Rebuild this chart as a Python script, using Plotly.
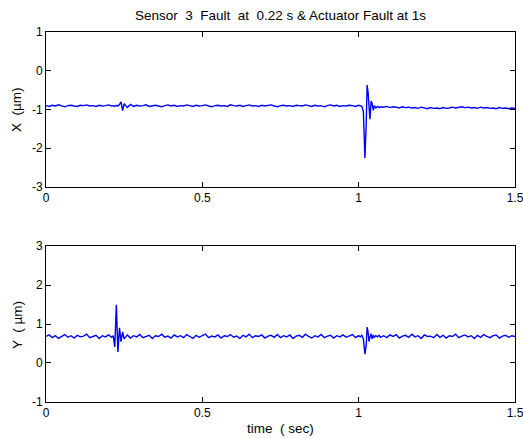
import plotly.graph_objects as go

# ---- data ----
time_s = [
    0.00, 0.01, 0.02, 0.03, 0.04, 0.05, 0.06, 0.07, 0.08, 0.09, 0.10, 0.11, 0.12, 0.13, 0.14, 0.15,
    0.16, 0.17, 0.18, 0.19, 0.20, 0.21,
    0.215, 0.22, 0.225, 0.23, 0.235, 0.24, 0.245, 0.25,
    0.26, 0.27, 0.28, 0.29, 0.30, 0.31, 0.32, 0.33, 0.34, 0.35, 0.36, 0.37, 0.38, 0.39, 0.40,
    0.41, 0.42, 0.43, 0.44, 0.45, 0.46, 0.47, 0.48, 0.49, 0.50, 0.51, 0.52, 0.53, 0.54, 0.55,
    0.56, 0.57, 0.58, 0.59, 0.60, 0.61, 0.62, 0.63, 0.64, 0.65, 0.66, 0.67, 0.68, 0.69, 0.70,
    0.71, 0.72, 0.73, 0.74, 0.75, 0.76, 0.77, 0.78, 0.79, 0.80, 0.81, 0.82, 0.83, 0.84, 0.85,
    0.86, 0.87, 0.88, 0.89, 0.90, 0.91, 0.92, 0.93, 0.94, 0.95, 0.96, 0.97, 0.98, 0.99, 1.00,
    1.005, 1.01, 1.015, 1.02, 1.024, 1.027, 1.03, 1.033, 1.036, 1.04, 1.043, 1.047, 1.05,
    1.055, 1.06, 1.065, 1.07,
    1.08, 1.09, 1.10, 1.11, 1.12, 1.13, 1.14, 1.15, 1.16, 1.17, 1.18, 1.19, 1.20, 1.21, 1.22,
    1.23, 1.24, 1.25, 1.26, 1.27, 1.28, 1.29, 1.30, 1.31, 1.32, 1.33, 1.34, 1.35, 1.36, 1.37,
    1.38, 1.39, 1.40, 1.41, 1.42, 1.43, 1.44, 1.45, 1.46, 1.47, 1.48, 1.49, 1.50,
]

x_um = [
    -0.90, -0.92, -0.89, -0.91, -0.88, -0.90, -0.93, -0.90, -0.89, -0.91, -0.92, -0.89, -0.90, -0.88, -0.91, -0.90,
    -0.92, -0.89, -0.91, -0.90, -0.88, -0.91,
    -0.90, -0.92, -0.89, -0.91, -0.87, -0.80, -1.03, -0.85,
    -0.95, -0.87, -0.92, -0.89, -0.91, -0.90, -0.88, -0.92, -0.90, -0.89, -0.91, -0.93, -0.90, -0.88, -0.91,
    -0.89, -0.92, -0.90, -0.91, -0.88, -0.90, -0.92, -0.89, -0.91, -0.90, -0.88, -0.91, -0.93, -0.90, -0.89,
    -0.91, -0.90, -0.92, -0.88, -0.90, -0.91, -0.89, -0.92, -0.90, -0.88, -0.91, -0.90, -0.92, -0.89, -0.91,
    -0.90, -0.88, -0.91, -0.93, -0.90, -0.89, -0.91, -0.90, -0.92, -0.89, -0.90, -0.91, -0.88, -0.90, -0.92,
    -0.89, -0.91, -0.90, -0.93, -0.90, -0.88, -0.91, -0.89, -0.92, -0.90, -0.91, -0.89, -0.90, -0.92, -0.89,
    -0.90, -0.92, -1.05, -2.25, -1.40, -0.37, -0.55, -1.10, -1.25, -0.78, -0.85, -1.02, -0.90,
    -0.96, -0.92, -0.95, -0.93,
    -0.94, -0.92, -0.95, -0.93, -0.94, -0.96, -0.93, -0.95, -0.94, -0.96, -0.95, -0.97, -0.94, -0.96, -0.98,
    -0.95, -0.97, -0.96, -0.98, -0.95, -0.97, -0.96, -0.94, -0.96, -0.95, -0.93, -0.95, -0.94, -0.96, -0.95,
    -0.97, -0.94, -0.96, -0.95, -0.97, -0.96, -0.98, -0.95, -0.97, -0.96, -0.98, -0.96, -0.97,
]

y_um = [
    0.68, 0.72, 0.65, 0.70, 0.63, 0.69, 0.73, 0.66, 0.70, 0.64, 0.71, 0.67, 0.69, 0.74, 0.65, 0.68,
    0.71, 0.63, 0.70, 0.67, 0.72, 0.66,
    0.70, 0.41, 1.49, 0.28, 0.90, 0.55, 0.80, 0.62,
    0.72, 0.64, 0.70, 0.67, 0.73, 0.65, 0.69, 0.71, 0.63, 0.70, 0.68, 0.74, 0.66, 0.69, 0.64,
    0.72, 0.67, 0.70, 0.65, 0.73, 0.68, 0.63, 0.71, 0.66, 0.70, 0.74, 0.65, 0.69, 0.67, 0.72,
    0.64, 0.70, 0.68, 0.73, 0.66, 0.69, 0.63, 0.71, 0.67, 0.74, 0.65, 0.70, 0.68, 0.72, 0.64,
    0.69, 0.71, 0.66, 0.73, 0.65, 0.70, 0.67, 0.72, 0.63, 0.69, 0.71, 0.66, 0.74, 0.68, 0.64,
    0.70, 0.67, 0.73, 0.65, 0.69, 0.71, 0.64, 0.70, 0.67, 0.72, 0.66, 0.69, 0.73, 0.65, 0.70,
    0.67, 0.71, 0.62, 0.23, 0.45, 0.92, 0.80, 0.55, 0.66, 0.75, 0.62, 0.72, 0.66,
    0.70, 0.67, 0.71, 0.66,
    0.70, 0.65, 0.72, 0.68, 0.73, 0.64, 0.69, 0.71, 0.66, 0.74, 0.67, 0.70, 0.63, 0.72, 0.68,
    0.69, 0.65, 0.73, 0.66, 0.71, 0.64, 0.70, 0.68, 0.74, 0.65, 0.69, 0.72, 0.67, 0.70, 0.63,
    0.71, 0.66, 0.73, 0.68, 0.65, 0.70, 0.72, 0.64, 0.69, 0.71, 0.66, 0.70, 0.68,
]

x_ticks = [0, 0.5, 1, 1.5]
x_tick_labels = ["0", "0.5", "1", "1.5"]
top_yticks = [-3, -2, -1, 0, 1]
top_ytick_labels = ["-3", "-2", "-1", "0", "1"]
bottom_yticks = [-1, 0, 1, 2, 3]
bottom_ytick_labels = ["-1", "0", "1", "2", "3"]

title_text = "Sensor  3  Fault  at  0.22 s & Actuator Fault at 1s"
top_ylabel = "X  (\u00b5m)"
bottom_ylabel = "Y  ( \u00b5m)"
bottom_xlabel = "time  ( sec)"

# ---- figure ----
FONT = "Liberation Sans, Arial, sans-serif"
line_style = dict(color="#0000ff", width=1.4)

fig = go.Figure()
fig.add_trace(go.Scatter(x=time_s, y=x_um, mode="lines", line=line_style,
                         xaxis="x", yaxis="y", showlegend=False))
fig.add_trace(go.Scatter(x=time_s, y=y_um, mode="lines", line=line_style,
                         xaxis="x2", yaxis="y2", showlegend=False))

axis_common = dict(
    showline=True, linecolor="black", linewidth=1, mirror="ticks",
    ticks="inside", ticklen=5, tickcolor="black", tickwidth=1,
    showgrid=False, zeroline=False, automargin=False,
    tickfont=dict(family=FONT, size=12, color="black"),
)

label_font = dict(family=FONT, size=13.5, color="black")

fig.update_layout(
    width=523, height=439,
    margin=dict(l=46, r=8, t=32, b=37, autoexpand=False),
    paper_bgcolor="white", plot_bgcolor="white",
    font=dict(family=FONT, size=12, color="black"),
    title=dict(text=title_text, x=0.5, xref="paper", y=1 - 15 / 439, yref="container",
               xanchor="center", yanchor="middle", font=label_font),
    xaxis=dict(axis_common, domain=[0, 1], range=[0, 1.5], tickvals=x_ticks,
               ticktext=x_tick_labels, anchor="y", ticklabeloverflow="allow"),
    yaxis=dict(axis_common, domain=[0.581, 1], range=[-3, 1], tickvals=top_yticks,
               ticktext=top_ytick_labels, anchor="x"),
    xaxis2=dict(axis_common, domain=[0, 1], range=[0, 1.5], tickvals=x_ticks,
                ticktext=x_tick_labels, anchor="y2", ticklabeloverflow="allow"),
    yaxis2=dict(axis_common, domain=[0, 0.4216], range=[-1, 3], tickvals=bottom_yticks,
                ticktext=bottom_ytick_labels, anchor="x2"),
    annotations=[
        dict(text=top_ylabel, xref="paper", yref="paper", x=-29 / 469, y=(402 - 110) / 370,
             showarrow=False, textangle=-90, xanchor="center", yanchor="middle",
             font=label_font),
        dict(text=bottom_ylabel, xref="paper", yref="paper", x=-29 / 469, y=(402 - 325) / 370,
             showarrow=False, textangle=-90, xanchor="center", yanchor="middle",
             font=label_font),
        dict(text=bottom_xlabel, xref="paper", yref="paper", x=0.5, y=(402 - 429) / 370,
             showarrow=False, xanchor="center", yanchor="middle",
             font=label_font),
    ],
)

# remove the page's default body margin so the figure sits at the window's top-left corner
fig.write_html(
    "out.html",
    config={"displayModeBar": False},
    post_script="document.body.style.margin='0';document.body.style.overflow='hidden';",
)
